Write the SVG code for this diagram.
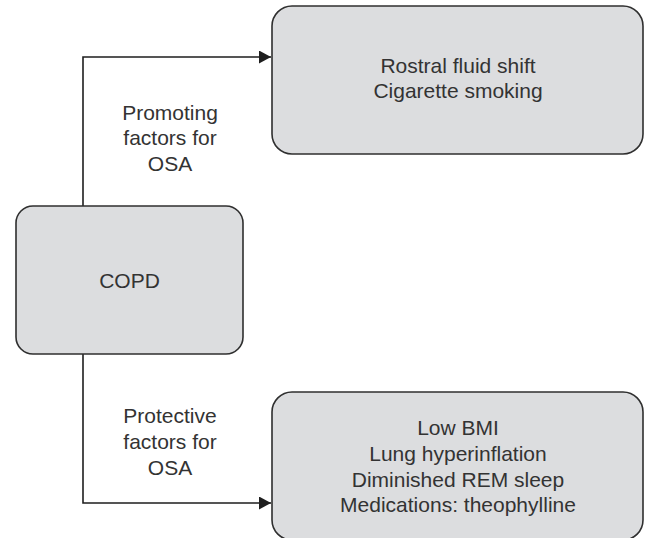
<svg xmlns="http://www.w3.org/2000/svg" width="646" height="538" viewBox="0 0 646 538">
  <style>
    .box { fill: #dcdddf; stroke: #2f2f2f; stroke-width: 1.6; }
    .t { font-family: "Liberation Sans", Arial, sans-serif; font-size: 21px; fill: #333333; text-anchor: middle; }
    .conn { fill: none; stroke: #1e1e1e; stroke-width: 1.6; }
  </style>
  <defs>
    <marker id="arr" markerWidth="12" markerHeight="13" refX="12" refY="6.5" orient="auto" markerUnits="userSpaceOnUse">
      <path d="M0,0 L12,6.5 L0,13 Z" fill="#1e1e1e"/>
    </marker>
  </defs>
  <rect width="646" height="538" fill="#ffffff"/>
  <g id="connectors">
    <path class="conn" d="M83,206 V57 H271" marker-end="url(#arr)"/>
    <path class="conn" d="M83,354 V503 H271" marker-end="url(#arr)"/>
    <text class="t" x="170" y="120">Promoting</text>
    <text class="t" x="170" y="145">factors for</text>
    <text class="t" x="170" y="171">OSA</text>
    <text class="t" x="170" y="423">Protective</text>
    <text class="t" x="170" y="449">factors for</text>
    <text class="t" x="170" y="475">OSA</text>
  </g>
  <g id="promoting">
    <rect class="box" x="272" y="6" width="371" height="148" rx="20" ry="20"/>
    <text class="t" x="458" y="73">Rostral fluid shift</text>
    <text class="t" x="458" y="98">Cigarette smoking</text>
  </g>
  <g id="copd">
    <rect class="box" x="16" y="206" width="227" height="148" rx="17" ry="17"/>
    <text class="t" x="129.5" y="288">COPD</text>
  </g>
  <g id="protective">
    <rect class="box" x="272" y="392" width="371" height="148" rx="20" ry="20"/>
    <text class="t" x="458" y="435">Low BMI</text>
    <text class="t" x="458" y="461">Lung hyperinflation</text>
    <text class="t" x="458" y="487">Diminished REM sleep</text>
    <text class="t" x="458" y="512">Medications: theophylline</text>
  </g>
</svg>
